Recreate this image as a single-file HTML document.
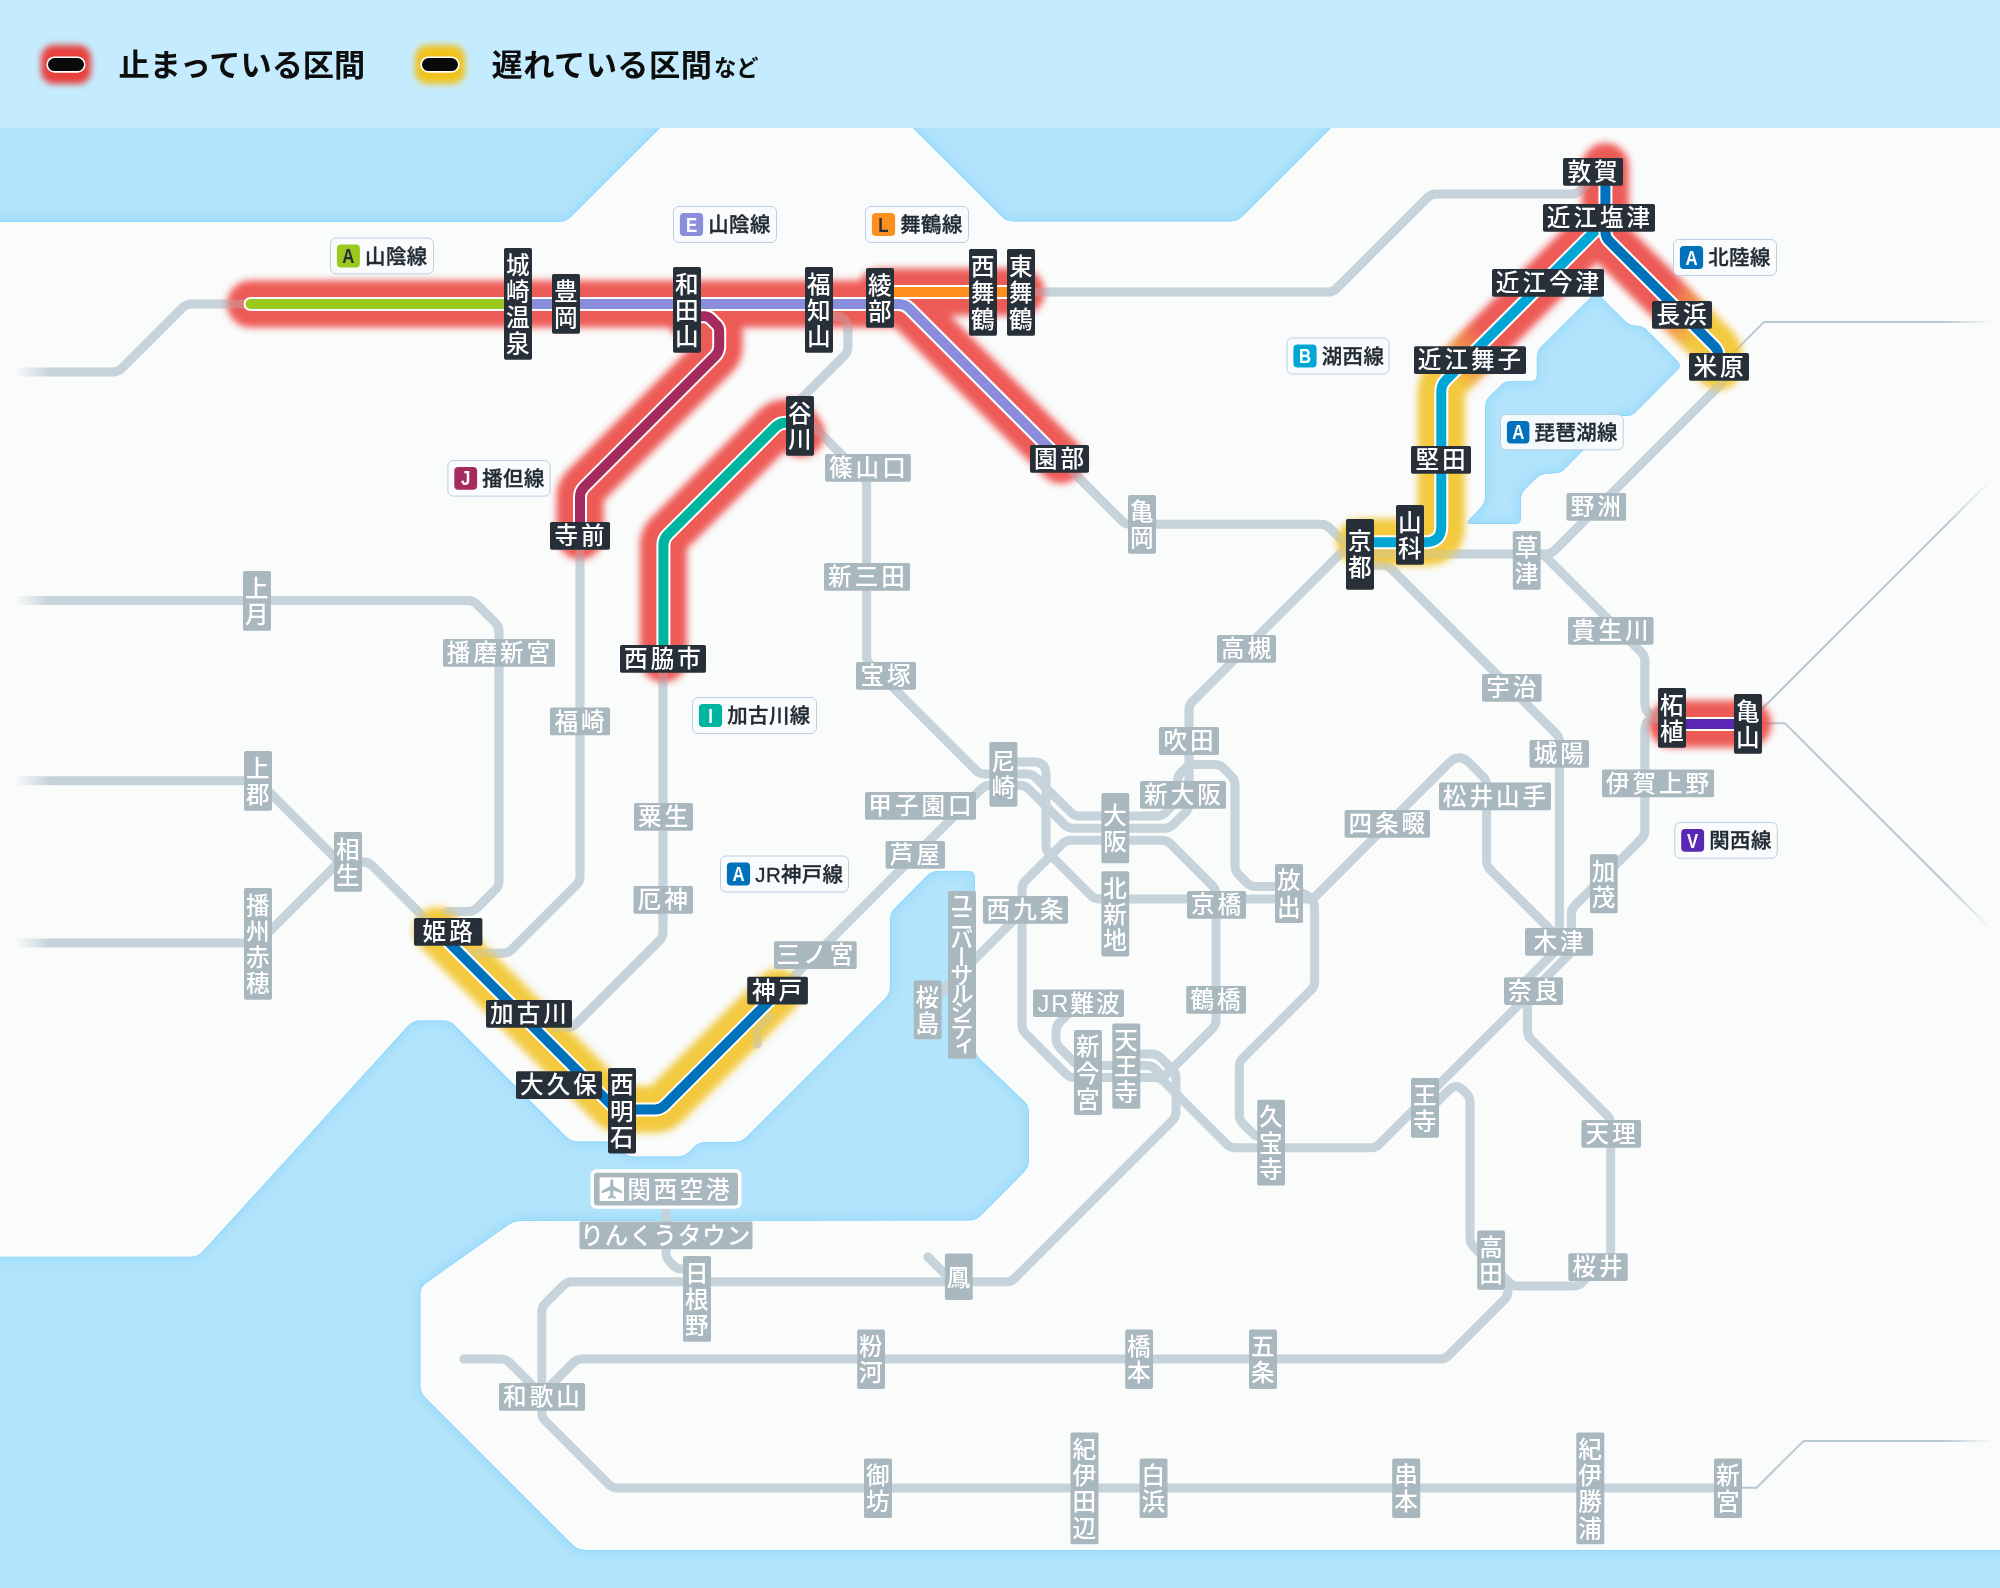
<!DOCTYPE html>
<html lang="ja"><head><meta charset="utf-8"><title>JR西日本 近畿エリア 運行情報</title>
<style>html,body{margin:0;padding:0;background:#b2e4fb}svg{display:block;will-change:transform}text{font-family:"Liberation Sans","Noto Sans CJK JP",sans-serif}.s{font-weight:500;fill:#fff}.l{font-weight:500;fill:#212b33;stroke:#212b33;stroke-width:.35px}</style></head>
<body>
<svg width="2000" height="1588" viewBox="0 0 2000 1588">
<defs>
<filter id="gb" x="-10%" y="-10%" width="120%" height="120%"><feGaussianBlur stdDeviation="3.5"/></filter>
<linearGradient id="g1" gradientUnits="userSpaceOnUse" x1="1662" y1="294" x2="1702" y2="334"><stop offset="0" stop-color="#ec4440"/><stop offset="1" stop-color="#f2c326"/></linearGradient>
<linearGradient id="g2" gradientUnits="userSpaceOnUse" x1="1490" y1="336" x2="1450" y2="376"><stop offset="0" stop-color="#ec4440"/><stop offset="1" stop-color="#f2c326"/></linearGradient>
<filter id="sb" x="-5%" y="-5%" width="110%" height="110%"><feGaussianBlur stdDeviation="4"/></filter>
<filter id="lb" x="-30%" y="-30%" width="160%" height="160%"><feGaussianBlur stdDeviation="3.4"/></filter>
<linearGradient id="fl" x1="0" x2="1" y1="0" y2="0"><stop offset="0" stop-color="#fafbfb"/><stop offset="0.3" stop-color="#fafbfb"/><stop offset="1" stop-color="#fafbfb" stop-opacity="0"/></linearGradient>
<linearGradient id="fr" x1="0" x2="1" y1="0" y2="0"><stop offset="0" stop-color="#fafbfb" stop-opacity="0"/><stop offset="0.85" stop-color="#fafbfb"/><stop offset="1" stop-color="#fafbfb"/></linearGradient>
<clipPath id="c0"><path d="M-30,87Q-30,80 -23,80L701,80Q708,80 703.1,84.9L570.9,217.1Q566,222 559,222L-23,222Q-30,222 -30,215Z"/></clipPath>
<clipPath id="c1"><path d="M869.9,84.9Q865,80 872,80L1372,80Q1379,80 1374.1,84.9L1242.4,216.6Q1237.5,221.5 1230.5,221.5L1013.5,221.5Q1006.5,221.5 1001.6,216.6Z"/></clipPath>
<clipPath id="c2"><path d="M-30,1263.7Q-30,1256.7 -23,1256.7L191,1256.7Q198,1256.7 202.7,1251.5L408.3,1025.6Q413,1020.4 420,1020.4L443,1020.4Q450,1020.4 454.9,1025.4L566.1,1136.5Q571,1141.5 578,1141.5L605,1141.5Q612,1141.5 616.9,1146.5L622.1,1151.6Q627,1156.6 634,1156.6L677,1156.6Q684,1156.6 689,1151.7L694,1146.9Q699,1142 706,1142L734.5,1142Q741.5,1142 746.4,1137.1L885.1,998.4Q890,993.5 890,986.5L890,920Q890,913 894.9,908L926.6,876Q931.5,871 938.5,871L968,871Q975,871 975,878L975,1047Q975,1054 980,1058.9L1024,1101.1Q1029,1106 1029,1113L1029,1160Q1029,1167 1024.1,1172L980.9,1215.5Q976,1220.5 969,1220.5L521,1221Q514,1221 508.3,1225L426.1,1283Q420.4,1287 420.4,1294L420.4,1385.6Q420.4,1392.6 425.3,1397.5L572.9,1545.1Q577.8,1550 584.8,1550L2023,1550Q2030,1550 2030,1557L2030,1613Q2030,1620 2023,1620L-23,1620Q-30,1620 -30,1613Z"/></clipPath>
<clipPath id="c3"><path d="M1591.8,296.2Q1596,292 1600.2,296.2L1625.3,321.3Q1629.5,325.5 1635.5,325.7L1637,325.8Q1643,326 1647.2,330.3L1677.8,361.2Q1682,365.5 1677.8,369.8L1636.2,411.7Q1632,416 1626,416L1623,416Q1617,416 1612.8,420.3L1565.2,468.7Q1561,473 1555,473.3L1546.5,473.7Q1540.5,474 1536.3,478.2L1525.2,489.3Q1521,493.5 1521,499.5L1521,518Q1521,524 1515,524L1471,524Q1465,524 1469.1,519.7L1480.9,507.3Q1485,503 1485,497L1485,407Q1485,401 1489.2,396.8L1500.8,385.2Q1505,381 1511,381L1530.8,381Q1536.8,381 1536.8,375L1536.8,357Q1536.8,351 1541,346.8Z"/></clipPath>
<clipPath id="cm"><rect x="60" y="128" width="1880" height="1430"/></clipPath>
</defs>
<rect width="2000" height="1588" fill="#fafbfb"/>
<g>
<g clip-path="url(#c0)"><path d="M-30,87Q-30,80 -23,80L701,80Q708,80 703.1,84.9L570.9,217.1Q566,222 559,222L-23,222Q-30,222 -30,215Z" fill="#b2e4fb"/><path d="M-30,87Q-30,80 -23,80L701,80Q708,80 703.1,84.9L570.9,217.1Q566,222 559,222L-23,222Q-30,222 -30,215Z" fill="none" stroke="#8fd6fb" stroke-width="9" opacity=".55" filter="url(#sb)"/><path d="M-30,87Q-30,80 -23,80L701,80Q708,80 703.1,84.9L570.9,217.1Q566,222 559,222L-23,222Q-30,222 -30,215Z" fill="none" stroke="#86d3fb" stroke-width="1.6" opacity=".8"/></g>
<g clip-path="url(#c1)"><path d="M869.9,84.9Q865,80 872,80L1372,80Q1379,80 1374.1,84.9L1242.4,216.6Q1237.5,221.5 1230.5,221.5L1013.5,221.5Q1006.5,221.5 1001.6,216.6Z" fill="#b2e4fb"/><path d="M869.9,84.9Q865,80 872,80L1372,80Q1379,80 1374.1,84.9L1242.4,216.6Q1237.5,221.5 1230.5,221.5L1013.5,221.5Q1006.5,221.5 1001.6,216.6Z" fill="none" stroke="#8fd6fb" stroke-width="9" opacity=".55" filter="url(#sb)"/><path d="M869.9,84.9Q865,80 872,80L1372,80Q1379,80 1374.1,84.9L1242.4,216.6Q1237.5,221.5 1230.5,221.5L1013.5,221.5Q1006.5,221.5 1001.6,216.6Z" fill="none" stroke="#86d3fb" stroke-width="1.6" opacity=".8"/></g>
<g clip-path="url(#c2)"><path d="M-30,1263.7Q-30,1256.7 -23,1256.7L191,1256.7Q198,1256.7 202.7,1251.5L408.3,1025.6Q413,1020.4 420,1020.4L443,1020.4Q450,1020.4 454.9,1025.4L566.1,1136.5Q571,1141.5 578,1141.5L605,1141.5Q612,1141.5 616.9,1146.5L622.1,1151.6Q627,1156.6 634,1156.6L677,1156.6Q684,1156.6 689,1151.7L694,1146.9Q699,1142 706,1142L734.5,1142Q741.5,1142 746.4,1137.1L885.1,998.4Q890,993.5 890,986.5L890,920Q890,913 894.9,908L926.6,876Q931.5,871 938.5,871L968,871Q975,871 975,878L975,1047Q975,1054 980,1058.9L1024,1101.1Q1029,1106 1029,1113L1029,1160Q1029,1167 1024.1,1172L980.9,1215.5Q976,1220.5 969,1220.5L521,1221Q514,1221 508.3,1225L426.1,1283Q420.4,1287 420.4,1294L420.4,1385.6Q420.4,1392.6 425.3,1397.5L572.9,1545.1Q577.8,1550 584.8,1550L2023,1550Q2030,1550 2030,1557L2030,1613Q2030,1620 2023,1620L-23,1620Q-30,1620 -30,1613Z" fill="#b2e4fb"/><path d="M-30,1263.7Q-30,1256.7 -23,1256.7L191,1256.7Q198,1256.7 202.7,1251.5L408.3,1025.6Q413,1020.4 420,1020.4L443,1020.4Q450,1020.4 454.9,1025.4L566.1,1136.5Q571,1141.5 578,1141.5L605,1141.5Q612,1141.5 616.9,1146.5L622.1,1151.6Q627,1156.6 634,1156.6L677,1156.6Q684,1156.6 689,1151.7L694,1146.9Q699,1142 706,1142L734.5,1142Q741.5,1142 746.4,1137.1L885.1,998.4Q890,993.5 890,986.5L890,920Q890,913 894.9,908L926.6,876Q931.5,871 938.5,871L968,871Q975,871 975,878L975,1047Q975,1054 980,1058.9L1024,1101.1Q1029,1106 1029,1113L1029,1160Q1029,1167 1024.1,1172L980.9,1215.5Q976,1220.5 969,1220.5L521,1221Q514,1221 508.3,1225L426.1,1283Q420.4,1287 420.4,1294L420.4,1385.6Q420.4,1392.6 425.3,1397.5L572.9,1545.1Q577.8,1550 584.8,1550L2023,1550Q2030,1550 2030,1557L2030,1613Q2030,1620 2023,1620L-23,1620Q-30,1620 -30,1613Z" fill="none" stroke="#8fd6fb" stroke-width="9" opacity=".55" filter="url(#sb)"/><path d="M-30,1263.7Q-30,1256.7 -23,1256.7L191,1256.7Q198,1256.7 202.7,1251.5L408.3,1025.6Q413,1020.4 420,1020.4L443,1020.4Q450,1020.4 454.9,1025.4L566.1,1136.5Q571,1141.5 578,1141.5L605,1141.5Q612,1141.5 616.9,1146.5L622.1,1151.6Q627,1156.6 634,1156.6L677,1156.6Q684,1156.6 689,1151.7L694,1146.9Q699,1142 706,1142L734.5,1142Q741.5,1142 746.4,1137.1L885.1,998.4Q890,993.5 890,986.5L890,920Q890,913 894.9,908L926.6,876Q931.5,871 938.5,871L968,871Q975,871 975,878L975,1047Q975,1054 980,1058.9L1024,1101.1Q1029,1106 1029,1113L1029,1160Q1029,1167 1024.1,1172L980.9,1215.5Q976,1220.5 969,1220.5L521,1221Q514,1221 508.3,1225L426.1,1283Q420.4,1287 420.4,1294L420.4,1385.6Q420.4,1392.6 425.3,1397.5L572.9,1545.1Q577.8,1550 584.8,1550L2023,1550Q2030,1550 2030,1557L2030,1613Q2030,1620 2023,1620L-23,1620Q-30,1620 -30,1613Z" fill="none" stroke="#86d3fb" stroke-width="1.6" opacity=".8"/></g>
<g clip-path="url(#c3)"><path d="M1591.8,296.2Q1596,292 1600.2,296.2L1625.3,321.3Q1629.5,325.5 1635.5,325.7L1637,325.8Q1643,326 1647.2,330.3L1677.8,361.2Q1682,365.5 1677.8,369.8L1636.2,411.7Q1632,416 1626,416L1623,416Q1617,416 1612.8,420.3L1565.2,468.7Q1561,473 1555,473.3L1546.5,473.7Q1540.5,474 1536.3,478.2L1525.2,489.3Q1521,493.5 1521,499.5L1521,518Q1521,524 1515,524L1471,524Q1465,524 1469.1,519.7L1480.9,507.3Q1485,503 1485,497L1485,407Q1485,401 1489.2,396.8L1500.8,385.2Q1505,381 1511,381L1530.8,381Q1536.8,381 1536.8,375L1536.8,357Q1536.8,351 1541,346.8Z" fill="#b2e4fb"/><path d="M1591.8,296.2Q1596,292 1600.2,296.2L1625.3,321.3Q1629.5,325.5 1635.5,325.7L1637,325.8Q1643,326 1647.2,330.3L1677.8,361.2Q1682,365.5 1677.8,369.8L1636.2,411.7Q1632,416 1626,416L1623,416Q1617,416 1612.8,420.3L1565.2,468.7Q1561,473 1555,473.3L1546.5,473.7Q1540.5,474 1536.3,478.2L1525.2,489.3Q1521,493.5 1521,499.5L1521,518Q1521,524 1515,524L1471,524Q1465,524 1469.1,519.7L1480.9,507.3Q1485,503 1485,497L1485,407Q1485,401 1489.2,396.8L1500.8,385.2Q1505,381 1511,381L1530.8,381Q1536.8,381 1536.8,375L1536.8,357Q1536.8,351 1541,346.8Z" fill="none" stroke="#8fd6fb" stroke-width="9" opacity=".55" filter="url(#sb)"/><path d="M1591.8,296.2Q1596,292 1600.2,296.2L1625.3,321.3Q1629.5,325.5 1635.5,325.7L1637,325.8Q1643,326 1647.2,330.3L1677.8,361.2Q1682,365.5 1677.8,369.8L1636.2,411.7Q1632,416 1626,416L1623,416Q1617,416 1612.8,420.3L1565.2,468.7Q1561,473 1555,473.3L1546.5,473.7Q1540.5,474 1536.3,478.2L1525.2,489.3Q1521,493.5 1521,499.5L1521,518Q1521,524 1515,524L1471,524Q1465,524 1469.1,519.7L1480.9,507.3Q1485,503 1485,497L1485,407Q1485,401 1489.2,396.8L1500.8,385.2Q1505,381 1511,381L1530.8,381Q1536.8,381 1536.8,375L1536.8,357Q1536.8,351 1541,346.8Z" fill="none" stroke="#86d3fb" stroke-width="1.6" opacity=".8"/></g>
</g>
<g fill="none" stroke="#c6d3da" stroke-width="9" stroke-linecap="round" stroke-linejoin="round">
<path d="M12,371.9L113.3,371.9Q118.3,371.9 121.8,368.4L182.7,307.5Q186.2,304 191.2,304L252,304"/>
<path d="M12,600.4L468,600.4Q473,600.4 476.5,603.9L495.5,622.9Q499,626.4 499,631.4L499,881Q499,886 495.5,889.5L477,908Q473.5,911.5 468.5,911.5L447,911.5"/>
<path d="M12,780.7L253,780.7Q258,780.7 261.5,784.2L335.8,858.5Q339.3,862 344.3,862L363.5,862Q368.5,862 372,865.5L455,948.5"/>
<path d="M12,943L253,943Q258,943 261.5,939.5L339,862"/>
<path d="M580,540L580,876.3Q580,881.3 576.5,884.8L511.5,949.8Q508,953.3 503,953.3L462,953.3"/>
<path d="M663,660L663,932Q663,937 659.5,940.5L576,1024Q572.5,1027.5 567.5,1027.5L556,1027.5"/>
<path d="M820,316.2L835.9,316.2Q847.9,316.2 847.9,328.2L847.9,347Q847.9,352 844.4,355.5L799,400.9"/>
<path d="M803,416L863.1,476.1Q866.6,479.6 866.6,484.6L866.6,656Q866.6,661 870.1,664.5L976.1,770.5Q979.6,774 984.6,774L1003,774"/>
<path d="M766,1004.2L981.5,788.7Q985,785.2 990,785.2L1003,785.2"/>
<path d="M1003,762L1034,762Q1046,762 1046,774L1046,845.5Q1046,850.5 1049.5,854L1091,895.5Q1094.5,899 1099.5,899L1289,899"/>
<path d="M1003,774L1027.1,774Q1032,774 1035.5,777.5L1071,812.6Q1074.5,816.1 1079.4,816.1L1115,816.1"/>
<path d="M1003,785.2L1020,785.2Q1025,785.2 1028.5,788.7L1064.5,824.7Q1068,828.2 1073,828.2L1115,828.2"/>
<path d="M1115,816.1L1157,816.1Q1162,816.1 1165.5,812.6L1174.1,804Q1177.6,800.5 1177.6,795.5L1177.6,781Q1177.6,776 1181.1,772.5L1189,764.6"/>
<path d="M1115,828.2L1164.6,828.2Q1169.6,828.2 1173.1,824.7L1185.5,812.3Q1189,808.8 1189,803.8L1189,710Q1189,705 1192.5,701.5L1352,542"/>
<path d="M1115,840.3L1071,840.3Q1066,840.3 1062.5,843.8L1025.5,880.8Q1022,884.3 1022,889.3L1022,1025Q1022,1030 1025.5,1033.5L1066.1,1074.1Q1069.6,1077.6 1074.6,1077.6L1155,1077.6Q1160,1077.6 1163.5,1081.1L1226.7,1144.3Q1230.2,1147.8 1235.2,1147.8L1370.7,1147.8Q1375.7,1147.8 1379.2,1144.3L1571.5,952"/>
<path d="M1115,840.3L1162,840.3Q1167,840.3 1170.5,843.8L1212.5,885.8Q1216,889.3 1216,894.3L1216,1020Q1216,1025 1212.5,1028.5L1163,1078"/>
<path d="M1070,1012L1059.5,1022.5Q1056,1026 1056,1031L1056,1039Q1056,1044 1059.5,1047.5L1074,1062Q1077.5,1065.5 1082.5,1065.5L1147,1065.5Q1152,1065.5 1155.5,1069L1164,1077.5"/>
<path d="M1126,1054L1152,1054Q1157,1054 1160.5,1057.5L1172.5,1069.5Q1176,1073 1176,1078L1176,1112Q1176,1117 1172.5,1120.5L1014.8,1278.2Q1011.3,1281.7 1006.3,1281.7L572,1281.7Q567,1281.7 563.5,1285.2L545.3,1303.5Q541.8,1307 541.8,1312L541.8,1412.4Q541.8,1417.4 545.3,1420.9L608.9,1484.5Q612.4,1488 617.4,1488L1728,1488"/>
<path d="M928,1257L950,1279"/>
<path d="M666,1205L666,1253Q666,1258 669.5,1261.5L673.5,1265.5Q677,1269 682,1269L692,1269"/>
<path d="M548,1388L573.5,1362.5Q577,1359 582,1359L1440,1359Q1445,1359 1448.5,1355.5L1504.5,1299.5Q1508,1296 1508,1291L1508,1289.7Q1508,1284 1503.6,1280.4L1497,1275"/>
<path d="M464,1359L501,1359Q506,1359 509.5,1362.5L536,1389"/>
<path d="M1434,1105L1449,1090Q1456,1083 1463,1090L1466.5,1093.5Q1470,1097 1470,1102L1470,1238.2Q1470,1243.2 1473.5,1246.7L1509.3,1282.5Q1512.8,1286 1517.8,1286L1573.6,1286Q1578.6,1286 1582.1,1282.5L1594,1270.6"/>
<path d="M1553,953.5L1516,990.5"/>
<path d="M1527.4,996L1527.4,1030.6Q1527.4,1035.6 1530.9,1039.1L1607.2,1115.4Q1610.7,1118.9 1610.7,1123.9L1610.7,1262"/>
<path d="M1022,900L1022,907Q1022,912 1018.5,915.5L925,1009"/>
<path d="M1189,764.6L1215,764.6Q1220,764.6 1223.5,768.1L1231.5,776.1Q1235,779.6 1235,784.6L1235,866Q1235,871 1238.5,874.5L1247,883Q1250.5,886.5 1255.5,886.5L1289,886.5"/>
<path d="M1289,893L1300,893Q1305,893 1308.5,896.5L1311.1,899.1Q1314.6,902.6 1314.6,907.6L1314.6,981.4Q1314.6,986.4 1311.1,989.9L1242.8,1058.2Q1239.3,1061.7 1239.3,1066.7L1239.3,1115Q1239.3,1120 1242.8,1123.5L1252.5,1133.2Q1256,1136.7 1261,1136.7L1268,1136.7"/>
<path d="M1289,899L1307.9,899Q1312.9,899 1316.4,895.5L1440,771.9"/>
<path d="M1430,781.9L1449.3,762.6Q1459.2,752.7 1469.1,762.6L1483.1,776.6Q1486.6,780.1 1486.6,785.1L1486.6,861Q1486.6,866 1490.1,869.5L1548.4,927.8Q1548.5,927.9 1548.6,928L1556,935"/>
<path d="M1035,292L1328,292Q1333,292 1336.5,288.5L1427.5,197.5Q1431,194 1436,194L1572,194Q1577,194 1580.5,190.5L1603,168"/>
<path d="M1059,458L1121.8,520.8Q1125.3,524.3 1130.3,524.3L1321,524.3Q1326,524.3 1329.5,527.8L1350,548.3"/>
<path d="M1360,554L1546,554Q1551,554 1554.5,550.5L1719.9,385.1Q1721,384 1721.8,382.7L1728,372"/>
<path d="M1366,565.2L1382.7,565.2Q1387.7,565.2 1391.2,568.7L1555.9,733.4Q1559.4,736.9 1559.4,741.9L1559.4,940"/>
<path d="M1527,554L1538,554Q1543,554 1546.5,557.5L1641.4,652.4Q1644.9,655.9 1644.9,660.9L1644.9,703.4Q1644.9,714.9 1656.5,714.9L1668,714.9"/>
<path d="M1668,718.5L1656.5,718.5Q1644.9,718.5 1644.9,730L1644.9,830.5Q1644.9,835.5 1641.4,839L1574.9,905.5Q1571.4,909 1571.4,914L1571.4,945"/>
<path d="M770,1016L760.4,1026Q757,1029.5 757,1034.3L757,1044"/>
</g>
<g fill="none" stroke="#b9c9d2" stroke-width="2" stroke-linejoin="round">
<path d="M1734,352L1763.4,322.6Q1764,322 1764.8,322L1995,322"/>
<path d="M1757,714L1995,476"/>
<path d="M1760,723.3L1784.2,723.3Q1785,723.3 1785.6,723.9L1998,936.3"/>
<path d="M1742,1487.8L1755.7,1487.8Q1756.5,1487.8 1757.1,1487.2L1802.9,1441.6Q1803.5,1441 1804.3,1441L1995,1441"/>
</g>
<rect x="0" y="235" width="50" height="1010" fill="url(#fl)"/>
<rect x="1945" y="235" width="55" height="1300" fill="url(#fr)"/>
<g fill="none" stroke-width="47" stroke-linecap="round" stroke-linejoin="round" opacity=".88" filter="url(#gb)">
<g stroke="#f2c326">
<path d="M437,930.5L611.9,1105.4Q616,1109.5 621.8,1109.5L654.9,1109.5Q660.7,1109.5 664.8,1105.4L778,992.2"/>
<path d="M1605.4,166.5L1605.4,231.4Q1605.4,237.2 1609.5,241.3L1714.4,346.2Q1718.5,350.3 1718.5,356.1L1718.5,366.5" stroke="url(#g1)"/>
<path d="M1605.4,220.6L1446,380Q1441.3,384.7 1441.3,391.3L1441.3,526.3Q1441.3,542.3 1425.3,542.3L1360,542.3" stroke="url(#g2)"/>
</g>
<g stroke="#ec4440">
<path d="M250.5,304L898.4,304Q905,304 909.7,308.7L1061,460"/>
<path d="M880,292.1L1021,292.1"/>
<path d="M690,316.2L704.3,316.2Q708,316.2 710.6,318.8L716.6,324.8Q719.2,327.4 719.2,331.1L719.2,346.2Q719.2,352 715.1,356.1L584.1,487.1Q580,491.2 580,497L580,536"/>
<path d="M801,433.5L794.2,424.4Q793,422.8 791,422.8L785.4,422.8Q779.6,422.8 775.5,426.9L667.5,534.9Q663.4,539 663.4,544.8L663.4,658.7"/>
<path d="M1672,724L1748,724"/>
</g>
</g>
<g fill="none" stroke="#c6d3da" stroke-width="9" stroke-linecap="round" stroke-linejoin="round" opacity=".3" clip-path="url(#cm)">
<path d="M12,371.9L113.3,371.9Q118.3,371.9 121.8,368.4L182.7,307.5Q186.2,304 191.2,304L252,304"/>
<path d="M12,600.4L468,600.4Q473,600.4 476.5,603.9L495.5,622.9Q499,626.4 499,631.4L499,881Q499,886 495.5,889.5L477,908Q473.5,911.5 468.5,911.5L447,911.5"/>
<path d="M12,780.7L253,780.7Q258,780.7 261.5,784.2L335.8,858.5Q339.3,862 344.3,862L363.5,862Q368.5,862 372,865.5L455,948.5"/>
<path d="M580,540L580,876.3Q580,881.3 576.5,884.8L511.5,949.8Q508,953.3 503,953.3L462,953.3"/>
<path d="M663,660L663,932Q663,937 659.5,940.5L576,1024Q572.5,1027.5 567.5,1027.5L556,1027.5"/>
<path d="M820,316.2L835.9,316.2Q847.9,316.2 847.9,328.2L847.9,347Q847.9,352 844.4,355.5L799,400.9"/>
<path d="M803,416L863.1,476.1Q866.6,479.6 866.6,484.6L866.6,656Q866.6,661 870.1,664.5L976.1,770.5Q979.6,774 984.6,774L1003,774"/>
<path d="M766,1004.2L981.5,788.7Q985,785.2 990,785.2L1003,785.2"/>
<path d="M1115,828.2L1164.6,828.2Q1169.6,828.2 1173.1,824.7L1185.5,812.3Q1189,808.8 1189,803.8L1189,710Q1189,705 1192.5,701.5L1352,542"/>
<path d="M1035,292L1328,292Q1333,292 1336.5,288.5L1427.5,197.5Q1431,194 1436,194L1572,194Q1577,194 1580.5,190.5L1603,168"/>
<path d="M1059,458L1121.8,520.8Q1125.3,524.3 1130.3,524.3L1321,524.3Q1326,524.3 1329.5,527.8L1350,548.3"/>
<path d="M1360,554L1546,554Q1551,554 1554.5,550.5L1719.9,385.1Q1721,384 1721.8,382.7L1728,372"/>
<path d="M1366,565.2L1382.7,565.2Q1387.7,565.2 1391.2,568.7L1555.9,733.4Q1559.4,736.9 1559.4,741.9L1559.4,940"/>
<path d="M1527,554L1538,554Q1543,554 1546.5,557.5L1641.4,652.4Q1644.9,655.9 1644.9,660.9L1644.9,703.4Q1644.9,714.9 1656.5,714.9L1668,714.9"/>
<path d="M1668,718.5L1656.5,718.5Q1644.9,718.5 1644.9,730L1644.9,830.5Q1644.9,835.5 1641.4,839L1574.9,905.5Q1571.4,909 1571.4,914L1571.4,945"/>
<path d="M770,1016L760.4,1026Q757,1029.5 757,1034.3L757,1044"/>
</g>
<g fill="none" stroke-linejoin="round">
<path d="M518,304L898.4,304Q905,304 909.7,308.7L1061,460" stroke="#fff" stroke-width="14" stroke-linecap="butt"/><path d="M518,304L898.4,304Q905,304 909.7,308.7L1061,460" stroke="#898ddc" stroke-width="10" stroke-linecap="butt"/>
<path d="M250.5,304L518,304" stroke="#fff" stroke-width="14" stroke-linecap="round"/><path d="M250.5,304L518,304" stroke="#9bca1e" stroke-width="10" stroke-linecap="round"/>
<path d="M880,292.1L1021,292.1" stroke="#fff" stroke-width="14" stroke-linecap="butt"/><path d="M880,292.1L1021,292.1" stroke="#ff8f1f" stroke-width="10" stroke-linecap="butt"/>
<path d="M690,316.2L704.3,316.2Q708,316.2 710.6,318.8L716.6,324.8Q719.2,327.4 719.2,331.1L719.2,346.2Q719.2,352 715.1,356.1L584.1,487.1Q580,491.2 580,497L580,536" stroke="#fff" stroke-width="14" stroke-linecap="butt"/><path d="M690,316.2L704.3,316.2Q708,316.2 710.6,318.8L716.6,324.8Q719.2,327.4 719.2,331.1L719.2,346.2Q719.2,352 715.1,356.1L584.1,487.1Q580,491.2 580,497L580,536" stroke="#a52a5e" stroke-width="10" stroke-linecap="butt"/>
<path d="M801,433.5L794.2,424.4Q793,422.8 791,422.8L785.4,422.8Q779.6,422.8 775.5,426.9L667.5,534.9Q663.4,539 663.4,544.8L663.4,658.7" stroke="#fff" stroke-width="14" stroke-linecap="butt"/><path d="M801,433.5L794.2,424.4Q793,422.8 791,422.8L785.4,422.8Q779.6,422.8 775.5,426.9L667.5,534.9Q663.4,539 663.4,544.8L663.4,658.7" stroke="#00b5a0" stroke-width="10" stroke-linecap="butt"/>
<path d="M1605.4,220.6L1446,380Q1441.3,384.7 1441.3,391.3L1441.3,526.3Q1441.3,542.3 1425.3,542.3L1360,542.3" stroke="#fff" stroke-width="14" stroke-linecap="butt"/><path d="M1605.4,220.6L1446,380Q1441.3,384.7 1441.3,391.3L1441.3,526.3Q1441.3,542.3 1425.3,542.3L1360,542.3" stroke="#00a7d4" stroke-width="10" stroke-linecap="butt"/>
<path d="M1605.4,166.5L1605.4,231.4Q1605.4,237.2 1609.5,241.3L1714.4,346.2Q1718.5,350.3 1718.5,356.1L1718.5,366.5" stroke="#fff" stroke-width="14" stroke-linecap="butt"/><path d="M1605.4,166.5L1605.4,231.4Q1605.4,237.2 1609.5,241.3L1714.4,346.2Q1718.5,350.3 1718.5,356.1L1718.5,366.5" stroke="#0072bc" stroke-width="10" stroke-linecap="butt"/>
<path d="M1672,724L1748,724" stroke="#fff" stroke-width="14" stroke-linecap="butt"/><path d="M1672,724L1748,724" stroke="#5a26b4" stroke-width="10" stroke-linecap="butt"/>
<path d="M437,930.5L611.9,1105.4Q616,1109.5 621.8,1109.5L654.9,1109.5Q660.7,1109.5 664.8,1105.4L778,992.2" stroke="#fff" stroke-width="14" stroke-linecap="butt"/><path d="M437,930.5L611.9,1105.4Q616,1109.5 621.8,1109.5L654.9,1109.5Q660.7,1109.5 664.8,1105.4L778,992.2" stroke="#0072bc" stroke-width="10" stroke-linecap="butt"/>
</g>
<g>
<rect x="504" y="248" width="28" height="111.7" rx="1.8" fill="#273038"/><text class="s" x="515.8" y="252.8" font-size="23.6" letter-spacing="2.6" writing-mode="vertical-rl" style="writing-mode:vertical-rl;text-orientation:upright">城崎温泉</text>
<rect x="552" y="274" width="28" height="59.7" rx="1.8" fill="#273038"/><text class="s" x="563.8" y="279" font-size="23.6" letter-spacing="2.6" writing-mode="vertical-rl" style="writing-mode:vertical-rl;text-orientation:upright">豊岡</text>
<rect x="673" y="267" width="28" height="85.7" rx="1.8" fill="#273038"/><text class="s" x="684.8" y="271.9" font-size="23.6" letter-spacing="2.6" writing-mode="vertical-rl" style="writing-mode:vertical-rl;text-orientation:upright">和田山</text>
<rect x="805" y="267" width="28" height="85.7" rx="1.8" fill="#273038"/><text class="s" x="816.8" y="271.9" font-size="23.6" letter-spacing="2.6" writing-mode="vertical-rl" style="writing-mode:vertical-rl;text-orientation:upright">福知山</text>
<rect x="866" y="268" width="28" height="59.7" rx="1.8" fill="#273038"/><text class="s" x="877.8" y="273" font-size="23.6" letter-spacing="2.6" writing-mode="vertical-rl" style="writing-mode:vertical-rl;text-orientation:upright">綾部</text>
<rect x="969" y="249" width="28" height="86.7" rx="1.8" fill="#273038"/><text class="s" x="980.8" y="254.4" font-size="23.6" letter-spacing="2.6" writing-mode="vertical-rl" style="writing-mode:vertical-rl;text-orientation:upright">西舞鶴</text>
<rect x="1007" y="249" width="28" height="86.7" rx="1.8" fill="#273038"/><text class="s" x="1018.8" y="254.4" font-size="23.6" letter-spacing="2.6" writing-mode="vertical-rl" style="writing-mode:vertical-rl;text-orientation:upright">東舞鶴</text>
<rect x="1030" y="445" width="59" height="27.7" rx="1.8" fill="#273038"/><text class="s" x="1033.9" y="467.1" font-size="23.6" letter-spacing="3">園部</text>
<rect x="786" y="396" width="28" height="59.7" rx="1.8" fill="#273038"/><text class="s" x="797.8" y="401" font-size="23.6" letter-spacing="2.6" writing-mode="vertical-rl" style="writing-mode:vertical-rl;text-orientation:upright">谷川</text>
<rect x="550" y="522" width="60" height="27.7" rx="1.8" fill="#273038"/><text class="s" x="554.4" y="544.1" font-size="23.6" letter-spacing="3">寺前</text>
<rect x="620" y="645" width="86" height="27.7" rx="1.8" fill="#273038"/><text class="s" x="624.1" y="667.1" font-size="23.6" letter-spacing="3">西脇市</text>
<rect x="1563" y="158" width="60" height="27.7" rx="1.8" fill="#273038"/><text class="s" x="1567.4" y="180.1" font-size="23.6" letter-spacing="3">敦賀</text>
<rect x="1543" y="204" width="112" height="27.7" rx="1.8" fill="#273038"/><text class="s" x="1546.8" y="226.1" font-size="23.6" letter-spacing="3">近江塩津</text>
<rect x="1492" y="269" width="112" height="27.7" rx="1.8" fill="#273038"/><text class="s" x="1495.8" y="291.1" font-size="23.6" letter-spacing="3">近江今津</text>
<rect x="1414" y="346.3" width="112" height="27.7" rx="1.8" fill="#273038"/><text class="s" x="1417.8" y="368.4" font-size="23.6" letter-spacing="3">近江舞子</text>
<rect x="1411" y="446" width="60" height="27.7" rx="1.8" fill="#273038"/><text class="s" x="1415.4" y="468.1" font-size="23.6" letter-spacing="3">堅田</text>
<rect x="1652" y="301" width="60" height="27.7" rx="1.8" fill="#273038"/><text class="s" x="1656.4" y="323.1" font-size="23.6" letter-spacing="3">長浜</text>
<rect x="1689" y="353" width="60" height="27.7" rx="1.8" fill="#273038"/><text class="s" x="1693.4" y="375.1" font-size="23.6" letter-spacing="3">米原</text>
<rect x="1396" y="505" width="28" height="59.7" rx="1.8" fill="#273038"/><text class="s" x="1407.8" y="510" font-size="23.6" letter-spacing="2.6" writing-mode="vertical-rl" style="writing-mode:vertical-rl;text-orientation:upright">山科</text>
<rect x="1346" y="519" width="28" height="70.7" rx="1.8" fill="#273038"/><text class="s" x="1357.8" y="529.5" font-size="23.6" letter-spacing="2.6" writing-mode="vertical-rl" style="writing-mode:vertical-rl;text-orientation:upright">京都</text>
<rect x="1658" y="688" width="28" height="59.7" rx="1.8" fill="#273038"/><text class="s" x="1669.8" y="693" font-size="23.6" letter-spacing="2.6" writing-mode="vertical-rl" style="writing-mode:vertical-rl;text-orientation:upright">柘植</text>
<rect x="1734" y="694" width="28" height="59.7" rx="1.8" fill="#273038"/><text class="s" x="1745.8" y="699" font-size="23.6" letter-spacing="2.6" writing-mode="vertical-rl" style="writing-mode:vertical-rl;text-orientation:upright">亀山</text>
<rect x="414" y="918" width="68.4" height="27.7" rx="1.8" fill="#273038"/><text class="s" x="422.6" y="940.1" font-size="23.6" letter-spacing="3">姫路</text>
<rect x="486" y="1000" width="86" height="27.7" rx="1.8" fill="#273038"/><text class="s" x="490.1" y="1022.1" font-size="23.6" letter-spacing="3">加古川</text>
<rect x="516" y="1071.3" width="86" height="27.7" rx="1.8" fill="#273038"/><text class="s" x="520.1" y="1093.4" font-size="23.6" letter-spacing="3">大久保</text>
<rect x="608" y="1068" width="28" height="85.4" rx="1.8" fill="#273038"/><text class="s" x="619.8" y="1072.7" font-size="23.6" letter-spacing="2.6" writing-mode="vertical-rl" style="writing-mode:vertical-rl;text-orientation:upright">西明石</text>
<rect x="747.2" y="976.7" width="60.7" height="27.7" rx="1.8" fill="#273038"/><text class="s" x="751.9" y="998.8" font-size="23.6" letter-spacing="3">神戸</text>
<rect x="825" y="454.1" width="85.8" height="27.7" rx="1.8" fill="#a9b8bf"/><text class="s" x="829" y="476.2" font-size="23.6" letter-spacing="3">篠山口</text>
<rect x="824" y="563" width="86" height="27.7" rx="1.8" fill="#a9b8bf"/><text class="s" x="828.1" y="585.1" font-size="23.6" letter-spacing="3">新三田</text>
<rect x="856" y="662" width="60" height="27.7" rx="1.8" fill="#a9b8bf"/><text class="s" x="860.4" y="684.1" font-size="23.6" letter-spacing="3">宝塚</text>
<rect x="1128" y="495" width="28" height="58.7" rx="1.8" fill="#a9b8bf"/><text class="s" x="1139.8" y="499.5" font-size="23.6" letter-spacing="2.6" writing-mode="vertical-rl" style="writing-mode:vertical-rl;text-orientation:upright">亀岡</text>
<rect x="243" y="571" width="28" height="59.7" rx="1.8" fill="#a9b8bf"/><text class="s" x="254.8" y="576" font-size="23.6" letter-spacing="2.6" writing-mode="vertical-rl" style="writing-mode:vertical-rl;text-orientation:upright">上月</text>
<rect x="443" y="639" width="112" height="27.7" rx="1.8" fill="#a9b8bf"/><text class="s" x="446.8" y="661.1" font-size="23.6" letter-spacing="3">播磨新宮</text>
<rect x="550" y="707.5" width="60" height="27.7" rx="1.8" fill="#a9b8bf"/><text class="s" x="554.4" y="729.6" font-size="23.6" letter-spacing="3">福崎</text>
<rect x="244" y="751" width="28" height="59.7" rx="1.8" fill="#a9b8bf"/><text class="s" x="255.8" y="756" font-size="23.6" letter-spacing="2.6" writing-mode="vertical-rl" style="writing-mode:vertical-rl;text-orientation:upright">上郡</text>
<rect x="334" y="832" width="28" height="59.7" rx="1.8" fill="#a9b8bf"/><text class="s" x="345.8" y="837" font-size="23.6" letter-spacing="2.6" writing-mode="vertical-rl" style="writing-mode:vertical-rl;text-orientation:upright">相生</text>
<rect x="244" y="888" width="28" height="111.7" rx="1.8" fill="#a9b8bf"/><text class="s" x="255.8" y="892.8" font-size="23.6" letter-spacing="2.6" writing-mode="vertical-rl" style="writing-mode:vertical-rl;text-orientation:upright">播州赤穂</text>
<rect x="634" y="803" width="59" height="27.7" rx="1.8" fill="#a9b8bf"/><text class="s" x="637.9" y="825.1" font-size="23.6" letter-spacing="3">粟生</text>
<rect x="633.5" y="886" width="59.5" height="27.7" rx="1.8" fill="#a9b8bf"/><text class="s" x="637.6" y="908.1" font-size="23.6" letter-spacing="3">厄神</text>
<rect x="774" y="941.2" width="82.7" height="27.7" rx="1.8" fill="#a9b8bf"/><text class="s" x="776.5" y="963.3" font-size="23.6" letter-spacing="3">三ノ宮</text>
<rect x="865" y="792" width="111" height="27.7" rx="1.8" fill="#a9b8bf"/><text class="s" x="868.3" y="814.1" font-size="23.6" letter-spacing="3">甲子園口</text>
<rect x="885.6" y="841" width="59.4" height="27.7" rx="1.8" fill="#a9b8bf"/><text class="s" x="889.7" y="863.1" font-size="23.6" letter-spacing="3">芦屋</text>
<rect x="989.4" y="742" width="28" height="64.7" rx="1.8" fill="#a9b8bf"/><text class="s" x="1001.2" y="749.5" font-size="23.6" letter-spacing="2.6" writing-mode="vertical-rl" style="writing-mode:vertical-rl;text-orientation:upright">尼崎</text>
<rect x="1101.4" y="793" width="27.8" height="70.2" rx="1.8" fill="#a9b8bf"/><text class="s" x="1113.1" y="803.2" font-size="23.6" letter-spacing="2.6" writing-mode="vertical-rl" style="writing-mode:vertical-rl;text-orientation:upright">大阪</text>
<rect x="1101.4" y="871.3" width="27.8" height="85.1" rx="1.8" fill="#a9b8bf"/><text class="s" x="1113.1" y="875.9" font-size="23.6" letter-spacing="2.6" writing-mode="vertical-rl" style="writing-mode:vertical-rl;text-orientation:upright">北新地</text>
<rect x="1140" y="781" width="86" height="27.7" rx="1.8" fill="#a9b8bf"/><text class="s" x="1144.1" y="803.1" font-size="23.6" letter-spacing="3">新大阪</text>
<rect x="1159" y="727" width="60" height="28" rx="1.8" fill="#a9b8bf"/><text class="s" x="1163.4" y="749.3" font-size="23.6" letter-spacing="3">吹田</text>
<rect x="1217" y="635" width="59" height="27.7" rx="1.8" fill="#a9b8bf"/><text class="s" x="1220.9" y="657.1" font-size="23.6" letter-spacing="3">高槻</text>
<rect x="983" y="896" width="85" height="27.7" rx="1.8" fill="#a9b8bf"/><text class="s" x="986.6" y="918.1" font-size="23.6" letter-spacing="3">西九条</text>
<rect x="948" y="891" width="28" height="167.7" rx="1.8" fill="#a9b8bf"/><text class="s" x="959.8" y="891.5" font-size="23.6" letter-spacing="-5.7" writing-mode="vertical-rl" style="writing-mode:vertical-rl;text-orientation:upright">ユニバーサルシティ</text>
<rect x="913.8" y="980.4" width="27.8" height="58.8" rx="1.8" fill="#a9b8bf"/><text class="s" x="925.4" y="984.9" font-size="23.6" letter-spacing="2.6" writing-mode="vertical-rl" style="writing-mode:vertical-rl;text-orientation:upright">桜島</text>
<rect x="1033" y="989.4" width="91" height="27.7" rx="1.8" fill="#a9b8bf"/><text class="s" x="1078.5" y="1011.7" font-size="23.6" text-anchor="middle" textLength="82" lengthAdjust="spacing">JR難波</text>
<rect x="1187" y="891" width="59" height="27.7" rx="1.8" fill="#a9b8bf"/><text class="s" x="1190.9" y="913.1" font-size="23.6" letter-spacing="3">京橋</text>
<rect x="1186.2" y="986" width="59.8" height="27.7" rx="1.8" fill="#a9b8bf"/><text class="s" x="1190.5" y="1008.1" font-size="23.6" letter-spacing="3">鶴橋</text>
<rect x="1275" y="864" width="28" height="59.1" rx="1.8" fill="#a9b8bf"/><text class="s" x="1286.8" y="868.6" font-size="23.6" letter-spacing="2.6" writing-mode="vertical-rl" style="writing-mode:vertical-rl;text-orientation:upright">放出</text>
<rect x="1074" y="1030" width="28" height="85.1" rx="1.8" fill="#a9b8bf"/><text class="s" x="1085.8" y="1034.6" font-size="23.6" letter-spacing="2.6" writing-mode="vertical-rl" style="writing-mode:vertical-rl;text-orientation:upright">新今宮</text>
<rect x="1112.3" y="1023.4" width="28" height="85.3" rx="1.8" fill="#a9b8bf"/><text class="s" x="1124.1" y="1028" font-size="23.6" letter-spacing="2.6" writing-mode="vertical-rl" style="writing-mode:vertical-rl;text-orientation:upright">天王寺</text>
<rect x="1257.2" y="1099.8" width="27.8" height="85.7" rx="1.8" fill="#a9b8bf"/><text class="s" x="1268.9" y="1104.7" font-size="23.6" letter-spacing="2.6" writing-mode="vertical-rl" style="writing-mode:vertical-rl;text-orientation:upright">久宝寺</text>
<rect x="1411" y="1078" width="28" height="59.7" rx="1.8" fill="#a9b8bf"/><text class="s" x="1422.8" y="1082.9" font-size="23.6" letter-spacing="2.6" writing-mode="vertical-rl" style="writing-mode:vertical-rl;text-orientation:upright">王寺</text>
<rect x="1512.8" y="531" width="27.8" height="58.7" rx="1.8" fill="#a9b8bf"/><text class="s" x="1524.5" y="535.5" font-size="23.6" letter-spacing="2.6" writing-mode="vertical-rl" style="writing-mode:vertical-rl;text-orientation:upright">草津</text>
<rect x="1566.5" y="493" width="59.5" height="27.7" rx="1.8" fill="#a9b8bf"/><text class="s" x="1570.7" y="515.1" font-size="23.6" letter-spacing="3">野洲</text>
<rect x="1568" y="617" width="85.5" height="27.7" rx="1.8" fill="#a9b8bf"/><text class="s" x="1571.8" y="639.1" font-size="23.6" letter-spacing="3">貴生川</text>
<rect x="1482" y="674" width="59.6" height="27.7" rx="1.8" fill="#a9b8bf"/><text class="s" x="1486.2" y="696.1" font-size="23.6" letter-spacing="3">宇治</text>
<rect x="1529.5" y="740" width="59.5" height="27.7" rx="1.8" fill="#a9b8bf"/><text class="s" x="1533.7" y="762.1" font-size="23.6" letter-spacing="3">城陽</text>
<rect x="1602" y="769.5" width="112" height="27.7" rx="1.8" fill="#a9b8bf"/><text class="s" x="1605.8" y="791.6" font-size="23.6" letter-spacing="3">伊賀上野</text>
<rect x="1439" y="782.5" width="112" height="27.7" rx="1.8" fill="#a9b8bf"/><text class="s" x="1442.8" y="804.6" font-size="23.6" letter-spacing="3">松井山手</text>
<rect x="1344.6" y="810" width="85.4" height="27.7" rx="1.8" fill="#a9b8bf"/><text class="s" x="1348.4" y="832.1" font-size="23.6" letter-spacing="3">四条畷</text>
<rect x="1589.9" y="854.3" width="27.8" height="58.9" rx="1.8" fill="#a9b8bf"/><text class="s" x="1601.6" y="858.9" font-size="23.6" letter-spacing="2.6" writing-mode="vertical-rl" style="writing-mode:vertical-rl;text-orientation:upright">加茂</text>
<rect x="1525" y="928" width="68" height="27.7" rx="1.8" fill="#a9b8bf"/><text class="s" x="1533.4" y="950.1" font-size="23.6" letter-spacing="3">木津</text>
<rect x="1504" y="977.2" width="59" height="27.7" rx="1.8" fill="#a9b8bf"/><text class="s" x="1507.9" y="999.3" font-size="23.6" letter-spacing="3">奈良</text>
<rect x="1581.4" y="1120" width="59.6" height="27.7" rx="1.8" fill="#a9b8bf"/><text class="s" x="1585.6" y="1142.1" font-size="23.6" letter-spacing="3">天理</text>
<rect x="1477.2" y="1230.6" width="27.8" height="59.1" rx="1.8" fill="#a9b8bf"/><text class="s" x="1489" y="1235.2" font-size="23.6" letter-spacing="2.6" writing-mode="vertical-rl" style="writing-mode:vertical-rl;text-orientation:upright">高田</text>
<rect x="1568.3" y="1253.3" width="59.4" height="27.7" rx="1.8" fill="#a9b8bf"/><text class="s" x="1572.4" y="1275.4" font-size="23.6" letter-spacing="3">桜井</text>
<rect x="579.5" y="1221.6" width="173" height="27.7" rx="1.8" fill="#a9b8bf"/><text class="s" x="580.2" y="1243.7" font-size="23.6" letter-spacing="0.9">りんくうタウン</text>
<rect x="683" y="1256" width="28" height="85.7" rx="1.8" fill="#a9b8bf"/><text class="s" x="694.8" y="1260.8" font-size="23.6" letter-spacing="2.6" writing-mode="vertical-rl" style="writing-mode:vertical-rl;text-orientation:upright">日根野</text>
<rect x="944.9" y="1253.5" width="27.8" height="46.6" rx="1.8" fill="#a9b8bf"/><text class="s" x="956.5" y="1265" font-size="23.6" letter-spacing="2.6" writing-mode="vertical-rl" style="writing-mode:vertical-rl;text-orientation:upright">鳳</text>
<rect x="499" y="1383" width="86" height="27.7" rx="1.8" fill="#a9b8bf"/><text class="s" x="503.1" y="1405.1" font-size="23.6" letter-spacing="3">和歌山</text>
<rect x="857.2" y="1329.6" width="27.8" height="59.4" rx="1.8" fill="#a9b8bf"/><text class="s" x="868.9" y="1334.4" font-size="23.6" letter-spacing="2.6" writing-mode="vertical-rl" style="writing-mode:vertical-rl;text-orientation:upright">粉河</text>
<rect x="1125.2" y="1329.6" width="27.8" height="59.4" rx="1.8" fill="#a9b8bf"/><text class="s" x="1136.9" y="1334.4" font-size="23.6" letter-spacing="2.6" writing-mode="vertical-rl" style="writing-mode:vertical-rl;text-orientation:upright">橋本</text>
<rect x="1249" y="1329.6" width="28" height="59.4" rx="1.8" fill="#a9b8bf"/><text class="s" x="1260.8" y="1334.4" font-size="23.6" letter-spacing="2.6" writing-mode="vertical-rl" style="writing-mode:vertical-rl;text-orientation:upright">五条</text>
<rect x="864" y="1458.6" width="28" height="59.4" rx="1.8" fill="#a9b8bf"/><text class="s" x="875.8" y="1463.4" font-size="23.6" letter-spacing="2.6" writing-mode="vertical-rl" style="writing-mode:vertical-rl;text-orientation:upright">御坊</text>
<rect x="1070.5" y="1432.4" width="28" height="111.8" rx="1.8" fill="#a9b8bf"/><text class="s" x="1082.3" y="1437.2" font-size="23.6" letter-spacing="2.6" writing-mode="vertical-rl" style="writing-mode:vertical-rl;text-orientation:upright">紀伊田辺</text>
<rect x="1139.6" y="1458.6" width="27.9" height="59.4" rx="1.8" fill="#a9b8bf"/><text class="s" x="1151.3" y="1463.4" font-size="23.6" letter-spacing="2.6" writing-mode="vertical-rl" style="writing-mode:vertical-rl;text-orientation:upright">白浜</text>
<rect x="1392.2" y="1458.6" width="28" height="59.4" rx="1.8" fill="#a9b8bf"/><text class="s" x="1404" y="1463.4" font-size="23.6" letter-spacing="2.6" writing-mode="vertical-rl" style="writing-mode:vertical-rl;text-orientation:upright">串本</text>
<rect x="1576.3" y="1432.4" width="28" height="111.8" rx="1.8" fill="#a9b8bf"/><text class="s" x="1588.1" y="1437.2" font-size="23.6" letter-spacing="2.6" writing-mode="vertical-rl" style="writing-mode:vertical-rl;text-orientation:upright">紀伊勝浦</text>
<rect x="1714" y="1458.6" width="28" height="59.4" rx="1.8" fill="#a9b8bf"/><text class="s" x="1725.8" y="1463.4" font-size="23.6" letter-spacing="2.6" writing-mode="vertical-rl" style="writing-mode:vertical-rl;text-orientation:upright">新宮</text>
</g>
<g><rect x="590.4" y="1169.2" width="151.2" height="39.6" rx="6" fill="#fff"/><rect x="594" y="1172.8" width="144" height="32.6" rx="3" fill="#a9b8bf"/><rect x="599.6" y="1177.4" width="24.4" height="23.6" fill="#fff"/><path transform="translate(611.8,1189.4) scale(0.92)" fill="#a9b8bf" d="M0,-11c1.1,0 1.7,1.2 1.7,2.6v4.6l9.3,5.6v2.4l-9.3,-2.9v5.2l2.6,2v1.9l-4.3,-1.2l-4.3,1.2v-1.9l2.6,-2v-5.2l-9.3,2.9v-2.4l9.3,-5.6v-4.6c0,-1.4 0.6,-2.6 1.7,-2.6z"/><text class="s" x="627.3" y="1198" font-size="23.6" letter-spacing="2.6">関西空港</text></g>
<g>
<rect x="330.5" y="238" width="103" height="35.8" rx="5.5" fill="#fafbfc" fill-opacity=".9" stroke="#bccfe3" stroke-width="1"/><rect x="336.9" y="244.4" width="23" height="23" rx="4" fill="#9bca1e"/><text transform="translate(348.4,263.1) scale(.84,1)" font-size="20" font-weight="700" text-anchor="middle" fill="#273038">A</text><text class="l" x="365.1" y="263.8" font-size="20.4" letter-spacing=".4">山陰線</text>
<rect x="673.5" y="206.5" width="103" height="36" rx="5.5" fill="#fafbfc" fill-opacity=".9" stroke="#bccfe3" stroke-width="1"/><rect x="679.9" y="212.9" width="23.2" height="23.2" rx="4" fill="#898ddc"/><text transform="translate(691.5,231.7) scale(.84,1)" font-size="20" font-weight="700" text-anchor="middle" fill="#fff">E</text><text class="l" x="708.3" y="232.4" font-size="20.4" letter-spacing=".4">山陰線</text>
<rect x="865.5" y="206.5" width="103" height="36" rx="5.5" fill="#fafbfc" fill-opacity=".9" stroke="#bccfe3" stroke-width="1"/><rect x="871.9" y="212.9" width="23.2" height="23.2" rx="4" fill="#ff8f1f"/><text transform="translate(883.5,231.7) scale(.84,1)" font-size="20" font-weight="700" text-anchor="middle" fill="#273038">L</text><text class="l" x="900.3" y="232.4" font-size="20.4" letter-spacing=".4">舞鶴線</text>
<rect x="1287" y="338" width="102" height="36" rx="5.5" fill="#fafbfc" fill-opacity=".9" stroke="#bccfe3" stroke-width="1"/><rect x="1293.4" y="344.4" width="23.2" height="23.2" rx="4" fill="#00a7d4"/><text transform="translate(1305,363.1) scale(.84,1)" font-size="20" font-weight="700" text-anchor="middle" fill="#fff">B</text><text class="l" x="1321.8" y="363.9" font-size="20.4" letter-spacing=".4">湖西線</text>
<rect x="1673.5" y="239.5" width="103" height="36" rx="5.5" fill="#fafbfc" fill-opacity=".9" stroke="#bccfe3" stroke-width="1"/><rect x="1679.9" y="245.9" width="23.2" height="23.2" rx="4" fill="#0072bc"/><text transform="translate(1691.5,264.6) scale(.84,1)" font-size="20" font-weight="700" text-anchor="middle" fill="#fff">A</text><text class="l" x="1708.3" y="265.4" font-size="20.4" letter-spacing=".4">北陸線</text>
<rect x="1500.5" y="414.5" width="122.7" height="35.3" rx="5.5" fill="#fafbfc" fill-opacity=".9" stroke="#bccfe3" stroke-width="1"/><rect x="1506.9" y="420.9" width="22.5" height="22.5" rx="4" fill="#0072bc"/><text transform="translate(1518.2,439.3) scale(.84,1)" font-size="20" font-weight="700" text-anchor="middle" fill="#fff">A</text><text class="l" x="1534.6" y="440" font-size="20.4" letter-spacing=".4">琵琶湖線</text>
<rect x="447.9" y="460.5" width="102.2" height="35.6" rx="5.5" fill="#fafbfc" fill-opacity=".9" stroke="#bccfe3" stroke-width="1"/><rect x="454.3" y="466.9" width="22.8" height="22.8" rx="4" fill="#a52a5e"/><text transform="translate(465.7,485.4) scale(.84,1)" font-size="20" font-weight="700" text-anchor="middle" fill="#fff">J</text><text class="l" x="482.3" y="486.2" font-size="20.4" letter-spacing=".4">播但線</text>
<rect x="692.5" y="697.5" width="124" height="36" rx="5.5" fill="#fafbfc" fill-opacity=".9" stroke="#bccfe3" stroke-width="1"/><rect x="698.9" y="703.9" width="23.2" height="23.2" rx="4" fill="#00b5a0"/><text transform="translate(710.5,722.6) scale(.84,1)" font-size="20" font-weight="700" text-anchor="middle" fill="#fff">I</text><text class="l" x="727.3" y="723.4" font-size="20.4" letter-spacing=".4">加古川線</text>
<rect x="720.5" y="856" width="128" height="36" rx="5.5" fill="#fafbfc" fill-opacity=".9" stroke="#bccfe3" stroke-width="1"/><rect x="726.9" y="862.4" width="23.2" height="23.2" rx="4" fill="#0072bc"/><text transform="translate(738.5,881.1) scale(.84,1)" font-size="20" font-weight="700" text-anchor="middle" fill="#fff">A</text><text class="l" x="755.3" y="881.9" font-size="20.4" letter-spacing=".4">JR神戸線</text>
<rect x="1674.8" y="822.5" width="102.5" height="35.7" rx="5.5" fill="#fafbfc" fill-opacity=".9" stroke="#bccfe3" stroke-width="1"/><rect x="1681.2" y="828.9" width="22.9" height="22.9" rx="4" fill="#5a26b4"/><text transform="translate(1692.7,847.5) scale(.84,1)" font-size="20" font-weight="700" text-anchor="middle" fill="#fff">V</text><text class="l" x="1709.3" y="848.2" font-size="20.4" letter-spacing=".4">関西線</text>
</g>
<rect x="0" y="0" width="2000" height="128" fill="#c5ecfe"/>
<g><rect x="41" y="45" width="50" height="39" rx="13" fill="#e8403c" filter="url(#lb)"/><rect x="47.2" y="57.3" width="37.6" height="14.6" rx="7.3" fill="#0a0a0a" stroke="#fff" stroke-width="1.6"/><text x="118.5" y="76.3" font-size="31.2" font-weight="700" fill="#0d0d0d">止まっている区間</text><rect x="415" y="45" width="50" height="39" rx="13" fill="#f0c21f" filter="url(#lb)"/><rect x="421.2" y="57.3" width="37.6" height="14.6" rx="7.3" fill="#0a0a0a" stroke="#fff" stroke-width="1.6"/><text x="491.5" y="76.3" font-size="31.2" font-weight="700" fill="#0d0d0d" letter-spacing=".5">遅れている区間<tspan font-size="22.3" letter-spacing="0" dx="1.5">など</tspan></text></g>
</svg>
</body></html>
